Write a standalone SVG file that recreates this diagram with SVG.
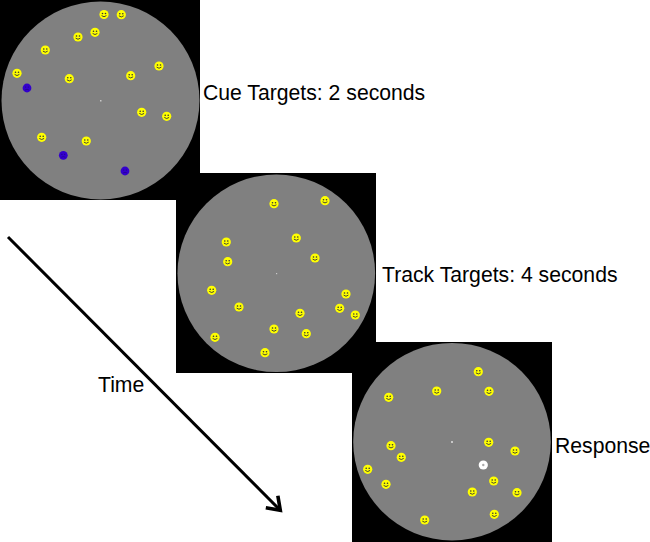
<svg xmlns="http://www.w3.org/2000/svg" width="650" height="542" viewBox="0 0 650 542">
<style>
.bg{fill:#000}
.disc{fill:#808080}
.fix{fill:#c8c8c8}
.lbl{font-family:"Liberation Sans",Arial,sans-serif;font-size:21.2px;fill:#000}
.f{fill:none;stroke:#333;stroke-width:.9}
.e{fill:#333}
.conn{fill:none;stroke:#000;stroke-width:3}
</style>
<defs>
<g id="face"><circle r="4.6" fill="#ffff00"/><circle cx="-1.5" cy="-1" r=".8" class="e"/><circle cx="1.5" cy="-1" r=".8" class="e"/><path d="M-2.4 1.1Q0 3.4 2.4 1.1" class="f"/></g>
<g id="blue"><circle r="4.4" fill="#3300cc"/><circle cx="-1.4" cy="-1" r=".6" fill="#220088"/><circle cx="1.4" cy="-1" r=".6" fill="#220088"/><path d="M-2 2Q0 .6 2 2" fill="none" stroke="#220088" stroke-width=".7"/></g>
<marker id="head" markerUnits="userSpaceOnUse" markerWidth="24" markerHeight="24" refX="16" refY="12" orient="auto"><path d="M3 3.5L15 12L3 20.5" fill="none" stroke="#000" stroke-width="3.6"/></marker>
</defs>
<rect width="650" height="542" fill="#fff"/>
<g id="panel-cue">
<rect class="bg" x="0" y="0" width="200" height="200"/>
<circle class="disc" cx="100.5" cy="100.5" r="99"/>
<rect class="fix" x="100" y="100" width="1.5" height="1.5"/>
<use href="#face" x="104" y="14.5"/><use href="#face" x="121.3" y="14.7"/><use href="#face" x="95" y="32.3"/><use href="#face" x="78" y="37"/><use href="#face" x="45.3" y="50"/><use href="#face" x="17" y="73.3"/><use href="#face" x="69.3" y="78.7"/><use href="#face" x="130.7" y="75.7"/><use href="#face" x="159" y="66"/><use href="#face" x="141.7" y="112.3"/><use href="#face" x="166.7" y="116.3"/><use href="#face" x="41.7" y="137.3"/><use href="#face" x="86.3" y="141"/>
<use href="#blue" x="27" y="88"/><use href="#blue" x="63.3" y="155.3"/><use href="#blue" x="125" y="171"/>
<text class="lbl" x="203" y="100">Cue Targets: 2 seconds</text>
</g>
<g id="panel-track">
<rect class="bg" x="176" y="173" width="200" height="200"/>
<circle class="disc" cx="276.3" cy="273.3" r="98.8"/>
<rect class="fix" x="276" y="273" width="1.2" height="1.2"/>
<use href="#face" x="274" y="203.7"/><use href="#face" x="325" y="200.7"/><use href="#face" x="226.3" y="242"/><use href="#face" x="296.3" y="238"/><use href="#face" x="315" y="258"/><use href="#face" x="227.7" y="261.7"/><use href="#face" x="211.7" y="290.3"/><use href="#face" x="239" y="307"/><use href="#face" x="346" y="294"/><use href="#face" x="339.7" y="308.3"/><use href="#face" x="355.3" y="315"/><use href="#face" x="300" y="313.3"/><use href="#face" x="274" y="329"/><use href="#face" x="306.3" y="333.7"/><use href="#face" x="215" y="337.3"/><use href="#face" x="265" y="352.7"/>
<text class="lbl" x="382" y="282">Track Targets: 4 seconds</text>
</g>
<g id="panel-response">
<rect class="bg" x="352" y="342" width="200" height="200"/>
<circle class="disc" cx="452" cy="441.7" r="98.8"/>
<rect class="fix" x="451" y="441" width="2" height="2"/>
<use href="#face" x="478.3" y="371.7"/><use href="#face" x="436.7" y="391"/><use href="#face" x="489" y="391.3"/><use href="#face" x="388.7" y="397.3"/><use href="#face" x="488.7" y="442.3"/><use href="#face" x="515" y="451"/><use href="#face" x="391" y="445.7"/><use href="#face" x="401.3" y="457.3"/><use href="#face" x="367.7" y="469.3"/><use href="#face" x="386" y="484.3"/><use href="#face" x="493.7" y="481"/><use href="#face" x="472.3" y="492"/><use href="#face" x="517" y="492.7"/><use href="#face" x="494.3" y="514.3"/><use href="#face" x="424.7" y="520"/>
<circle cx="483.3" cy="465" r="4.6" fill="#fff"/><circle cx="483.3" cy="465" r="1.2" fill="#aaa"/>
<text class="lbl" x="555" y="453">Response</text>
</g>
<g id="connectors">
<line class="conn" x1="8" y1="237" x2="281" y2="511" marker-end="url(#head)"/>
</g>
<g id="label-time"><text class="lbl" x="98" y="392">Time</text></g>
</svg>
